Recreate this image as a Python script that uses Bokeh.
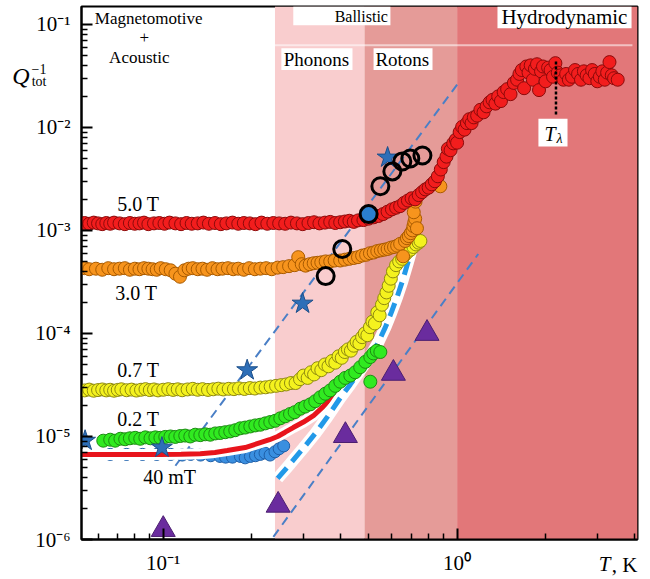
from bokeh.plotting import figure
from bokeh.models import (BoxAnnotation, Label, FixedTicker, Range1d, CustomJSTickFormatter,
                          LogAxis)
from bokeh.embed import file_html
from bokeh.resources import INLINE

SERIF = "Liberation Serif"

# ---- 5.0 T (red): flat part and the rise towards T_lambda ----
t_50T_low = [0.054, 0.056, 0.058, 0.060, 0.062, 0.064, 0.066, 0.068, 0.071, 0.074,
             0.077, 0.080, 0.083, 0.086, 0.089, 0.093, 0.097, 0.101, 0.105, 0.110,
             0.115, 0.120, 0.125, 0.131, 0.137, 0.143, 0.150, 0.157, 0.164, 0.172,
             0.180, 0.188, 0.197, 0.206, 0.216, 0.226, 0.237, 0.248, 0.260, 0.272,
             0.285, 0.298, 0.312, 0.326, 0.340, 0.355, 0.370, 0.385, 0.400, 0.415,
             0.430, 0.445, 0.460]
q_50T_low = [1.18e-3, 1.16e-3, 1.19e-3, 1.17e-3, 1.15e-3, 1.18e-3, 1.16e-3, 1.19e-3, 1.17e-3, 1.15e-3,
             1.18e-3, 1.16e-3, 1.17e-3, 1.19e-3, 1.15e-3, 1.17e-3, 1.18e-3, 1.16e-3, 1.19e-3, 1.17e-3,
             1.15e-3, 1.18e-3, 1.16e-3, 1.17e-3, 1.19e-3, 1.16e-3, 1.18e-3, 1.15e-3, 1.17e-3, 1.19e-3,
             1.16e-3, 1.18e-3, 1.17e-3, 1.15e-3, 1.19e-3, 1.16e-3, 1.18e-3, 1.17e-3, 1.16e-3, 1.19e-3,
             1.17e-3, 1.15e-3, 1.18e-3, 1.20e-3, 1.17e-3, 1.19e-3, 1.21e-3, 1.18e-3, 1.20e-3, 1.22e-3,
             1.24e-3, 1.21e-3, 1.25e-3]
t_50T_high = [0.48, 0.50, 0.52, 0.54, 0.56, 0.58, 0.60, 0.62, 0.64, 0.66,
              0.68, 0.70, 0.72, 0.74, 0.76, 0.78, 0.80, 0.82, 0.84, 0.86,
              0.88, 0.90, 0.92, 0.93, 0.95, 0.97, 0.99, 1.00, 1.02, 1.04,
              1.06, 1.08, 1.10, 1.12, 1.14, 1.17, 1.20, 1.23, 1.26, 1.29,
              1.32, 1.35, 1.38, 1.41, 1.44, 1.48, 1.52, 1.56, 1.60, 1.63,
              1.66, 1.69, 1.72, 1.75, 1.78, 1.81, 1.84, 1.87, 1.90, 1.93,
              1.96, 2.00, 2.04, 2.08, 2.12, 2.16, 2.20, 2.25, 2.30, 2.35,
              2.40, 2.46, 2.52, 2.58, 2.64, 2.70, 2.76, 2.82, 2.88, 2.94,
              3.00, 3.06, 3.12, 3.18, 3.24, 3.30, 3.36, 3.42, 3.52]
q_50T_high = [1.26e-3, 1.30e-3, 1.34e-3, 1.38e-3, 1.44e-3, 1.52e-3, 1.60e-3, 1.66e-3, 1.72e-3, 1.85e-3,
              1.95e-3, 2.05e-3, 2.00e-3, 2.20e-3, 2.35e-3, 2.50e-3, 2.60e-3, 2.80e-3, 3.00e-3, 3.35e-3,
              3.90e-3, 4.60e-3, 5.20e-3, 6.20e-3, 6.00e-3, 7.00e-3, 7.60e-3, 7.10e-3, 9.00e-3, 1.01e-2,
              9.50e-3, 1.10e-2, 1.20e-2, 1.10e-2, 1.25e-2, 1.30e-2, 1.48e-2, 1.40e-2, 1.60e-2, 1.75e-2,
              1.85e-2, 1.70e-2, 2.00e-2, 1.80e-2, 2.20e-2, 2.35e-2, 2.10e-2, 2.70e-2, 2.90e-2, 3.30e-2,
              3.60e-2, 2.40e-2, 3.90e-2, 3.40e-2, 4.00e-2, 2.90e-2, 3.70e-2, 4.10e-2, 2.30e-2, 3.50e-2,
              3.90e-2, 2.80e-2, 3.80e-2, 3.60e-2, 3.10e-2, 4.20e-2, 3.40e-2, 3.20e-2, 2.90e-2, 3.30e-2,
              2.90e-2, 3.10e-2, 3.60e-2, 3.30e-2, 2.90e-2, 3.50e-2, 3.20e-2, 3.00e-2, 3.60e-2, 3.30e-2,
              2.80e-2, 3.10e-2, 3.50e-2, 2.90e-2, 3.40e-2, 4.30e-2, 3.20e-2, 3.00e-2, 2.90e-2]

# ---- 3.0 T (orange) ----
t_30T_low = [0.054, 0.056, 0.059, 0.062, 0.065, 0.068, 0.071, 0.074, 0.077, 0.080,
             0.083, 0.086, 0.089, 0.092, 0.095, 0.098, 0.102, 0.106, 0.110, 0.114,
             0.118, 0.122, 0.126, 0.131, 0.136, 0.141, 0.147, 0.153, 0.159, 0.166,
             0.173, 0.180, 0.188, 0.196, 0.205, 0.214, 0.224, 0.234, 0.245, 0.256,
             0.268, 0.280, 0.288, 0.296, 0.305, 0.315, 0.325]
q_30T_low = [4.30e-4, 4.20e-4, 4.25e-4, 4.15e-4, 4.30e-4, 4.20e-4, 4.25e-4, 4.30e-4, 4.15e-4, 4.25e-4,
             4.20e-4, 4.30e-4, 4.25e-4, 4.20e-4, 4.15e-4, 4.30e-4, 4.20e-4, 4.10e-4, 3.80e-4, 3.55e-4,
             4.10e-4, 4.25e-4, 4.30e-4, 4.20e-4, 4.25e-4, 4.15e-4, 4.30e-4, 4.20e-4, 4.25e-4, 4.30e-4,
             4.20e-4, 4.25e-4, 4.15e-4, 4.30e-4, 4.20e-4, 4.25e-4, 4.30e-4, 4.20e-4, 4.35e-4, 4.40e-4,
             4.50e-4, 4.60e-4, 5.50e-4, 4.70e-4, 4.55e-4, 4.70e-4, 4.80e-4]
t_30T_high = [0.335, 0.345, 0.357, 0.370, 0.383, 0.400, 0.415, 0.430, 0.445, 0.460,
              0.475, 0.490, 0.505, 0.520, 0.535, 0.550, 0.565, 0.580, 0.595, 0.610,
              0.625, 0.640, 0.655, 0.665, 0.675, 0.685, 0.695, 0.705, 0.710, 0.715,
              0.720, 0.712, 0.722, 0.730, 0.877]
q_30T_high = [4.85e-4, 4.90e-4, 5.00e-4, 5.00e-4, 5.10e-4, 5.10e-4, 5.20e-4, 5.30e-4, 5.40e-4, 5.50e-4,
              5.70e-4, 5.80e-4, 6.00e-4, 6.10e-4, 6.30e-4, 6.40e-4, 6.50e-4, 6.60e-4, 6.80e-4, 6.90e-4,
              7.10e-4, 7.40e-4, 5.60e-4, 7.90e-4, 8.40e-4, 8.80e-4, 9.40e-4, 1.00e-3, 1.10e-3, 1.20e-3,
              1.30e-3, 1.50e-3, 1.90e-3, 1.05e-3, 2.68e-3]

# ---- 0.7 T (yellow) ----
t_07T_low = [0.054, 0.056, 0.058, 0.060, 0.062, 0.064, 0.066, 0.068, 0.070, 0.072,
             0.075, 0.078, 0.081, 0.084, 0.087, 0.090, 0.093, 0.096, 0.100, 0.104,
             0.108, 0.112, 0.116, 0.121, 0.126, 0.131, 0.136, 0.142, 0.148, 0.154,
             0.160, 0.167, 0.174, 0.181, 0.189, 0.197, 0.205, 0.214, 0.223, 0.232,
             0.242, 0.252, 0.262, 0.272]
q_07T_low = [2.80e-5, 2.85e-5, 2.78e-5, 2.82e-5, 2.86e-5, 2.80e-5, 2.84e-5, 2.78e-5, 2.83e-5, 2.87e-5,
             2.81e-5, 2.85e-5, 2.79e-5, 2.84e-5, 2.88e-5, 2.82e-5, 2.86e-5, 2.80e-5, 2.84e-5, 2.88e-5,
             2.83e-5, 2.87e-5, 2.81e-5, 2.86e-5, 2.90e-5, 2.84e-5, 2.88e-5, 2.83e-5, 2.87e-5, 2.91e-5,
             2.86e-5, 2.90e-5, 2.88e-5, 2.93e-5, 2.89e-5, 2.95e-5, 2.92e-5, 2.98e-5, 3.00e-5, 3.05e-5,
             3.10e-5, 3.15e-5, 3.20e-5, 3.30e-5]
t_07T_high = [0.282, 0.292, 0.300, 0.310, 0.318, 0.326, 0.335, 0.345, 0.355, 0.365,
              0.375, 0.385, 0.395, 0.405, 0.415, 0.425, 0.435, 0.445, 0.455, 0.465,
              0.475, 0.485, 0.495, 0.505, 0.515, 0.525, 0.535, 0.545, 0.555, 0.565,
              0.575, 0.585, 0.595, 0.605, 0.620, 0.635, 0.650, 0.665, 0.680, 0.695,
              0.710, 0.725, 0.740, 0.750]
q_07T_high = [3.3e-5, 3.6e-5, 3.9e-5, 3.7e-5, 4.2e-5, 4.0e-5, 4.6e-5, 4.4e-5, 5.0e-5, 4.8e-5,
              5.4e-5, 5.2e-5, 6.0e-5, 5.8e-5, 6.6e-5, 7.0e-5, 6.8e-5, 7.6e-5, 8.3e-5, 8.0e-5,
              9.2e-5, 1.0e-4, 9.6e-5, 1.15e-4, 1.3e-4, 1.25e-4, 1.6e-4, 1.5e-4, 1.9e-4, 2.2e-4,
              2.5e-4, 2.9e-4, 3.4e-4, 4.0e-4, 4.6e-4, 5.0e-4, 5.3e-4, 5.8e-4, 6.2e-4, 6.5e-4,
              6.9e-4, 7.3e-4, 7.6e-4, 7.9e-4]

# ---- 0.2 T (green) ----
t_02T = [0.0625, 0.0660, 0.0686, 0.0715, 0.0742, 0.0770, 0.0803, 0.0835, 0.0869, 0.0905,
         0.0940, 0.0978, 0.1016, 0.1058, 0.1099, 0.1143, 0.1188, 0.1236, 0.1285, 0.1337,
         0.1390, 0.1445, 0.1503, 0.1563, 0.1626, 0.1690, 0.1758, 0.1829, 0.1900, 0.1978,
         0.2057, 0.2139, 0.2224, 0.2313, 0.2405, 0.2502, 0.2602, 0.2700, 0.2800, 0.2926,
         0.3040, 0.3165, 0.3290, 0.3420, 0.3560, 0.3700, 0.3850, 0.4004, 0.4160, 0.4331,
         0.4500, 0.4680, 0.4873, 0.5066, 0.5188, 0.5330, 0.5480, 0.5066]
q_02T = [9.1e-6, 9.3e-6, 9.1e-6, 9.5e-6, 9.4e-6, 9.6e-6, 9.7e-6, 9.5e-6, 9.8e-6, 9.6e-6,
         9.8e-6, 9.7e-6, 9.9e-6, 1.0e-5, 9.9e-6, 1.01e-5, 1.02e-5, 1.0e-5, 1.04e-5, 1.03e-5,
         1.05e-5, 1.04e-5, 1.07e-5, 1.08e-5, 1.1e-5, 1.12e-5, 1.15e-5, 1.2e-5, 1.22e-5, 1.25e-5,
         1.28e-5, 1.3e-5, 1.34e-5, 1.38e-5, 1.42e-5, 1.5e-5, 1.57e-5, 1.65e-5, 1.72e-5, 1.86e-5,
         1.95e-5, 2.05e-5, 2.2e-5, 2.4e-5, 2.6e-5, 2.8e-5, 3.1e-5, 3.4e-5, 3.7e-5, 3.9e-5,
         4.2e-5, 4.7e-5, 5.3e-5, 5.9e-5, 6.4e-5, 6.8e-5, 6.6e-5, 3.4e-5]

# ---- 40 mT (blue) ----
t_40mT = [0.066, 0.075, 0.085, 0.095, 0.106, 0.116, 0.124, 0.134, 0.145, 0.156,
          0.163, 0.172, 0.183, 0.190, 0.198, 0.206, 0.214, 0.222, 0.231, 0.240,
          0.248, 0.257]
q_40mT = [6.7e-6, 6.7e-6, 6.7e-6, 6.7e-6, 6.7e-6, 6.6e-6, 6.7e-6, 6.6e-6, 6.5e-6, 6.4e-6,
          6.3e-6, 6.3e-6, 6.4e-6, 6.2e-6, 6.4e-6, 6.5e-6, 6.7e-6, 6.9e-6, 6.6e-6, 7.1e-6,
          7.6e-6, 8.1e-6]

# fit through the 40 mT data
fit_t = [0.052, 0.07, 0.0977, 0.115, 0.1337, 0.15, 0.165, 0.19, 0.2139, 0.23,
         0.245, 0.26, 0.277, 0.30, 0.3245, 0.35, 0.3793, 0.4066]
fit_q = [6.68e-6, 6.68e-6, 6.68e-6, 6.72e-6, 6.8e-6, 7.0e-6, 7.3e-6, 7.8e-6, 8.7e-6, 9.3e-6,
         1.0e-5, 1.1e-5, 1.22e-5, 1.38e-5, 1.59e-5, 1.95e-5, 2.5e-5, 3.1e-5]

# thick dashed model curve
model_t = [0.245, 0.2706, 0.2998, 0.3292, 0.3618, 0.4004, 0.4331, 0.4684, 0.5066, 0.5394,
           0.5702, 0.5974, 0.6262, 0.651, 0.676, 0.703]
model_q = [3.92e-6, 5.44e-6, 7.71e-6, 1.07e-5, 1.55e-5, 2.37e-5, 3.2e-5, 4.4e-5, 6.0e-5, 8.2e-5,
           1.15e-4, 1.6e-4, 2.3e-4, 3.2e-4, 4.6e-4, 6.8e-4]

# thin dashed power-law guides
guide_a_t = [0.11, 1.0]
guide_a_q = [5.2e-6, 2.6e-2]
guide_b_t = [0.237, 1.18]
guide_b_q = [1.06e-6, 5.9e-4]

# other measurements
star_t = [0.0542, 0.099, 0.193, 0.298, 0.58]
star_q = [9.1e-6, 7.8e-6, 4.4e-5, 1.95e-4, 5.1e-3]
tri_t = [0.10, 0.246, 0.4167, 0.607, 0.79]
tri_q = [1.25e-6, 2.15e-6, 1.02e-5, 4.1e-5, 1.0e-4]
ring_t = [0.357, 0.4066, 0.548, 0.602, 0.651, 0.693, 0.762]
ring_q = [3.6e-4, 6.6e-4, 2.68e-3, 3.74e-3, 4.67e-3, 4.99e-3, 5.34e-3]
ring_fill_t = [0.50]
ring_fill_q = [1.44e-3]

T_LAMBDA = 2.17

# regime boundaries (K)
phonon_start, roton_start, hydro_start = 0.24, 0.484, 1.0

p = figure(width=650, height=579, x_axis_type="log", y_axis_type="log",
           x_range=Range1d(0.0527, 4.11), y_range=Range1d(1e-6, 0.149),
           output_backend="svg", toolbar_location=None,
           min_border_left=81, min_border_right=13, min_border_top=6, min_border_bottom=36)
p.grid.visible = False
p.outline_line_color = "black"
p.outline_line_width = 2
p.background_fill_color = "white"
p.border_fill_color = "white"

# shaded regimes
p.add_layout(BoxAnnotation(left=phonon_start, right=roton_start, fill_color="#f9cdce",
                           fill_alpha=1, line_color=None, level="underlay"))
p.add_layout(BoxAnnotation(left=roton_start, right=hydro_start, fill_color="#e59b98",
                           fill_alpha=1, line_color=None, level="underlay"))
p.add_layout(BoxAnnotation(left=hydro_start, fill_color="#e27779",
                           fill_alpha=1, line_color=None, level="underlay"))
# white boxes behind the header texts
for l, r, b, t in [(0.277, 0.593, 0.098, None), (1.372, 3.923, 0.0915, None),
                   (0.2523, 0.4405, 0.036, 0.0587), (0.5196, 0.8247, 0.036, 0.0587),
                   (1.891, 2.375, 0.00652, 0.01213)]:
    p.add_layout(BoxAnnotation(left=l, right=r, bottom=b, top=t, fill_color="white",
                               fill_alpha=1, line_color=None, level="underlay"))

p.line([phonon_start, 3.95], [0.0627, 0.0627], line_color="white", line_alpha=0.55, line_width=2)

# axes
xt = FixedTicker(ticks=[0.1, 1.0],
                 minor_ticks=[m * 10.0 ** e for e in (-2, -1, 0) for m in range(2, 10)])
yt = FixedTicker(ticks=[1e-6, 1e-5, 1e-4, 1e-3, 1e-2, 1e-1],
                 minor_ticks=[m * 10.0 ** e for e in range(-6, 0) for m in range(2, 10)])
p.xaxis.ticker = xt
p.yaxis.ticker = yt
fmt = CustomJSTickFormatter(code="""
    const sup = {"-": "\u207b", "0": "\u2070", "1": "\u00b9", "2": "\u00b2", "3": "\u00b3",
                 "4": "\u2074", "5": "\u2075", "6": "\u2076", "7": "\u2077", "8": "\u2078", "9": "\u2079"};
    const e = Math.round(Math.log10(tick));
    return "10" + String(e).split("").map(c => sup[c]).join("");
""")
p.xaxis.formatter = fmt
p.yaxis.formatter = fmt
for ax in (p.xaxis, p.yaxis):
    ax.axis_line_width = 2
    ax.axis_line_color = "black"
    ax.major_tick_in = 11
    ax.major_tick_out = 0
    ax.minor_tick_in = 6
    ax.minor_tick_out = 0
    ax.major_tick_line_width = 2
    ax.minor_tick_line_width = 1.5
    ax.major_tick_line_color = "black"
    ax.minor_tick_line_color = "black"
    ax.major_label_text_font = SERIF
    ax.major_label_text_font_size = "21px"
    ax.major_label_text_color = "black"
p.yaxis.major_label_standoff = 11
p.xaxis.major_label_standoff = 11


# axis titles, set as single-tick label rows next to the main axes
def title_axis(side, ticks, labels, size, style, standoff):
    ax = LogAxis(ticker=FixedTicker(ticks=ticks, minor_ticks=[]),
                 formatter=CustomJSTickFormatter(args=dict(labels=labels),
                                                 code="return labels[index];"),
                 axis_line_color=None, major_tick_line_color=None, minor_tick_line_color=None,
                 major_tick_in=0, major_tick_out=0, minor_tick_in=0, minor_tick_out=0,
                 major_label_standoff=standoff, major_label_text_font=SERIF,
                 major_label_text_font_size=size, major_label_text_font_style=style,
                 major_label_text_color="black")
    p.add_layout(ax, side)


title_axis("left", [0.0276, 0.0368], ["tot", "\u22121"], "14px", "normal", -14)
title_axis("left", [0.0315], ["Q"], "24px", "italic", -1)
title_axis("below", [3.173], ["T"], "21px", "italic", -26)
title_axis("below", [3.712], [", K"], "21px", "normal", -26)

# guides
p.line(guide_a_t, guide_a_q, line_color="#4a7fc6", line_width=2, line_dash="9 6")
p.line(guide_b_t, guide_b_q, line_color="#4a7fc6", line_width=2, line_dash="9 6")

# 40 mT data and its fit
p.scatter(t_40mT, q_40mT, marker="circle", size=12, fill_color="#3a8fe0",
          line_color="#1f5fa8", line_width=1)
p.line(fit_t, fit_q, line_color="white", line_width=11)
p.line(fit_t, fit_q, line_color="#e8141c", line_width=5)

# model curve with white backing
p.line(model_t, model_q, line_color="white", line_width=12)
p.line(model_t, model_q, line_color="#2299e8", line_width=5, line_dash="14 8")

p.scatter(t_02T, q_02T, marker="circle", size=13, fill_color="#30ea20",
          line_color="#1c8c12", line_width=1)
p.scatter(t_07T_low + t_07T_high, q_07T_low + q_07T_high, marker="circle", size=13,
          fill_color="#f4f21e", line_color="#8f8a10", line_width=1)
p.scatter(t_30T_low + t_30T_high, q_30T_low + q_30T_high, marker="circle", size=13,
          fill_color="#f7941d", line_color="#a85a00", line_width=1)
p.scatter(t_50T_low + t_50T_high, q_50T_low + q_50T_high, marker="circle", size=13,
          fill_color="#f21d1d", line_color="#8c0a0a", line_width=1)

p.scatter(star_t, star_q, marker="star", size=22, fill_color="#2e6fb8",
          line_color="#1d4f8a", line_width=1)
p.scatter(ring_fill_t, ring_fill_q, marker="circle", size=17, fill_color="#2a7fcf",
          line_color="black", line_width=3)
p.scatter(ring_t, ring_q, marker="circle", size=17, fill_color=None,
          line_color="black", line_width=3)
p.scatter(tri_t, tri_q, marker="triangle", size=24, fill_color="#6a2c9e",
          line_color="#4b1e70", line_width=1)

p.line([T_LAMBDA, T_LAMBDA], [0.0133, 0.045], line_color="black", line_width=2.5, line_dash="3 2")


def text(x, y, s, size, align="left", style="normal", baseline="alphabetic"):
    p.add_layout(Label(x=x, y=y, text=s, text_font=SERIF, text_font_size=size,
                       text_font_style=style, text_align=align, text_baseline=baseline,
                       text_color="black"))


text(0.0892, 0.1143, "Magnetomotive", "17px", align="center")
text(0.0862, 0.0739, "+", "17px", align="center")
text(0.0829, 0.0481, "Acoustic", "17px", align="center")
text(0.472, 0.1194, "Ballistic", "16px", align="center")
text(2.318, 0.1168, "Hydrodynamic", "21px", align="center")
text(0.332, 0.0460, "Phonons", "19px", align="center")
text(0.651, 0.0460, "Rotons", "19px", align="center")
text(1.983, 0.00868, "T", "20px", style="italic")
text(2.178, 0.00778, "\u03bb", "14px", style="italic")

text(0.0697, 1.794e-3, "5.0 T", "20px")
text(0.0686, 2.49e-4, "3.0 T", "20px")
text(0.0697, 4.41e-5, "0.7 T", "20px")
text(0.0697, 1.485e-5, "0.2 T", "20px")
text(0.0855, 4.01e-6, "40 mT", "20px")

open("out.html", "w").write(file_html(p, INLINE))
